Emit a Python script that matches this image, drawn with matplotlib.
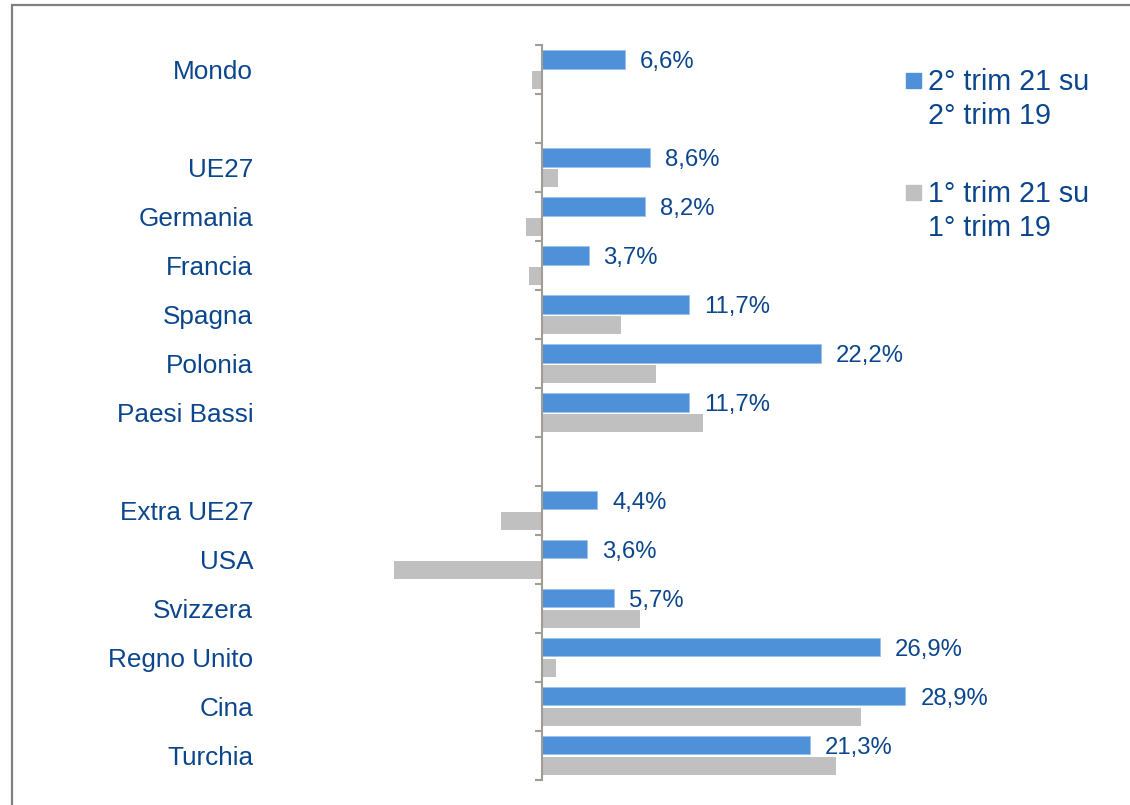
import numpy as np
import matplotlib.pyplot as plt
from matplotlib.patches import Rectangle

plt.rcParams['font.family'] = ['Liberation Sans', 'DejaVu Sans']

# categorie (righe vuote per separare i gruppi)
paesi = ["Mondo", "", "UE27", "Germania", "Francia", "Spagna", "Polonia", "Paesi Bassi",
         "", "Extra UE27", "USA", "Svizzera", "Regno Unito", "Cina", "Turchia"]
# 2° trim 21 su 2° trim 19
q2 = [6.6, np.nan, 8.6, 8.2, 3.7, 11.7, 22.2, 11.7, np.nan, 4.4, 3.6, 5.7, 26.9, 28.9, 21.3]
# 1° trim 21 su 1° trim 19
q1 = [-0.8, np.nan, 1.3, -1.3, -1.0, 6.3, 9.1, 12.8, np.nan, -3.3, -11.8, 7.8, 1.1, 25.4, 23.4]
etichette = ["2° trim 21 su\n2° trim 19", "1° trim 21 su\n1° trim 19"]

blu = "#4f91d9"
grigio = "#c0c0c0"
testo = "#0b468c"

fig = plt.figure(figsize=(11.3, 8.05), dpi=100)
ax = fig.add_axes([0.3462, 0.0311, 0.4672, 0.9130])

y = np.arange(len(paesi))
h = 0.37
ax.barh(y - 0.205, q2, height=h, color=blu, edgecolor="#9cc3ee", linewidth=0.6)
ax.barh(y + 0.215, q1, height=h, color=grigio)

# etichette dati
for yi, v in zip(y, q2):
    if np.isnan(v):
        continue
    ax.annotate(f"{v:.1f}%".replace(".", ","), (v, yi - 0.205), xytext=(15, 0),
                textcoords="offset pixels", va="center_baseline", ha="left",
                fontsize=17.2, color=testo, annotation_clip=False)

ax.set_xlim(-12, 30)
ax.set_ylim(len(paesi) - 0.5, -0.5)

for s in ["top", "right", "bottom"]:
    ax.spines[s].set_visible(False)
ax.spines["left"].set_position(("data", 0))
ax.spines["left"].set_color("#a09e94")
ax.spines["left"].set_linewidth(1.5)
ax.set_xticks([])

ax.set_yticks(y, [p for p in paesi])
ax.set_yticks(np.arange(-0.5, len(paesi)), minor=True)
ax.tick_params(axis="y", which="major", length=0, pad=208, labelsize=18.8, labelcolor=testo)
ax.tick_params(axis="y", which="minor", length=5, width=1.5, color="#a09e94", direction="out")

# legenda
for i, (lab, col) in enumerate(zip(etichette, [blu, grigio])):
    y0 = 805 - (73 + 112 * i)
    fig.patches.append(Rectangle((906 / 1130, (y0 - 15) / 805), 15 / 1130, 15 / 805,
                                 transform=fig.transFigure, color=col))
    for j, riga in enumerate(lab.split("\n")):
        fig.text(928 / 1130, (805 - (90.5 + 112 * i + 33.5 * j)) / 805, riga,
                 fontsize=20.6, color=testo, va="baseline", ha="left")

# cornice
fig.patches.append(Rectangle((12 / 1130, -0.1), 1.2, (805 - 5) / 805 + 0.1,
                             transform=fig.transFigure, fill=False,
                             edgecolor="#808080", linewidth=1.6))

fig.savefig("out.png", dpi=100)
